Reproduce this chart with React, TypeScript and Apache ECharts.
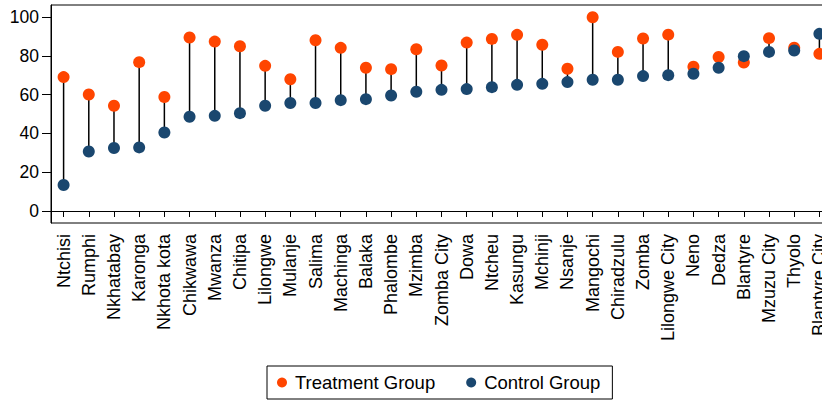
import React, { useEffect, useRef } from "react";
import * as echarts from "echarts";

const districts = [
  "Ntchisi", "Rumphi", "Nkhatabay", "Karonga", "Nkhota kota", "Chikwawa", "Mwanza", "Chitipa",
  "Lilongwe", "Mulanje", "Salima", "Machinga", "Balaka", "Phalombe", "Mzimba", "Zomba City",
  "Dowa", "Ntcheu", "Kasungu", "Mchinji", "Nsanje", "Mangochi", "Chiradzulu", "Zomba",
  "Lilongwe City", "Neno", "Dedza", "Blantyre", "Mzuzu City", "Thyolo", "Blantyre City",
];

const treatment = [
  69.1, 60.1, 54.3, 76.8, 58.8, 89.5, 87.4, 85.0, 74.9, 68.0, 88.1, 84.2, 73.9, 73.2, 83.5, 75.1,
  86.9, 88.8, 90.9, 85.8, 73.4, 100.0, 82.1, 89.0, 91.0, 74.4, 79.5, 76.6, 89.2, 84.3, 81.1,
];

const control = [
  13.4, 30.7, 32.5, 32.8, 40.5, 48.6, 49.1, 50.5, 54.3, 55.7, 55.7, 57.2, 57.7, 59.6, 61.5, 62.5,
  62.9, 63.9, 65.1, 65.6, 66.5, 67.7, 67.7, 69.6, 70.1, 70.8, 73.9, 79.9, 82.1, 82.8, 91.4,
];

const yTicks = [0, 20, 40, 60, 80, 100];

const FONT = "Liberation Sans, Arial, sans-serif";
const ORANGE = "#FF4500";
const NAVY = "#1A476F";

export default function App() {
  const ref = useRef<HTMLDivElement>(null);

  useEffect(() => {
    if (!ref.current) return;
    const chart = echarts.init(ref.current, undefined, { renderer: "svg" });
    const segData = districts.map((_, i) => [i, treatment[i], control[i]]);
    chart.setOption({
      animation: false,
      backgroundColor: "#fff",
      textStyle: { fontFamily: FONT },
      grid: {
        left: 51,
        top: 5,
        width: 781,
        height: 218,
        show: true,
        borderColor: "#000",
        borderWidth: 1,
        containLabel: false,
      },
      legend: {
        data: ["Treatment Group", "Control Group"],
        left: 267,
        top: 366,
        orient: "horizontal",
        borderColor: "#000",
        borderWidth: 1,
        padding: [7, 12, 7, 10],
        itemGap: 31,
        itemWidth: 10,
        itemHeight: 10,
        icon: "circle",
        textStyle: { fontFamily: FONT, fontSize: 18.5, color: "#000", padding: [0, 0, 0, 3] },
      },
      xAxis: {
        type: "category",
        data: districts,
        boundaryGap: true,
        axisLine: { show: true, lineStyle: { color: "#000", width: 1 } },
        axisTick: { show: true, alignWithLabel: true, length: 6, lineStyle: { color: "#000" } },
        axisLabel: {
          interval: 0,
          rotate: 90,
          margin: 11,
          fontFamily: FONT,
          fontSize: 18,
          color: "#000",
        },
        splitLine: { show: false },
      },
      yAxis: {
        type: "value",
        min: -6.2,
        max: 106.3,
        axisLine: { show: true, lineStyle: { color: "#000", width: 1 } },
        axisTick: { show: true, length: 9, lineStyle: { color: "#000" }, customValues: yTicks },
        axisLabel: {
          margin: 12,
          fontFamily: FONT,
          fontSize: 17.5,
          color: "#000",
          customValues: yTicks,
        },
        splitLine: { show: false },
      },
      series: [
        {
          type: "custom",
          name: "segments",
          data: segData,
          encode: { x: 0, y: [1, 2] },
          renderItem: (params: any, api: any) => {
            const i = api.value(0);
            const p1 = api.coord([i, api.value(1)]);
            const p2 = api.coord([i, api.value(2)]);
            return {
              type: "line",
              shape: { x1: p1[0], y1: p1[1], x2: p2[0], y2: p2[1] },
              style: { stroke: "#000", lineWidth: 1.5 },
            };
          },
          z: 1,
        },
        {
          type: "scatter",
          name: "Treatment Group",
          data: treatment,
          symbol: "circle",
          symbolSize: 12,
          itemStyle: { color: ORANGE, opacity: 1 },
          z: 2,
        },
        {
          type: "scatter",
          name: "Control Group",
          data: control,
          symbol: "circle",
          symbolSize: 12,
          itemStyle: { color: NAVY, opacity: 1 },
          z: 3,
        },
      ],
    });
    return () => chart.dispose();
  }, []);

  return (
    <div
      style={{
        position: "fixed",
        left: 0,
        top: 0,
        width: 822,
        height: 400,
        overflow: "hidden",
        background: "#fff",
      }}
    >
      <div ref={ref} style={{ width: 860, height: 400 }} />
    </div>
  );
}
